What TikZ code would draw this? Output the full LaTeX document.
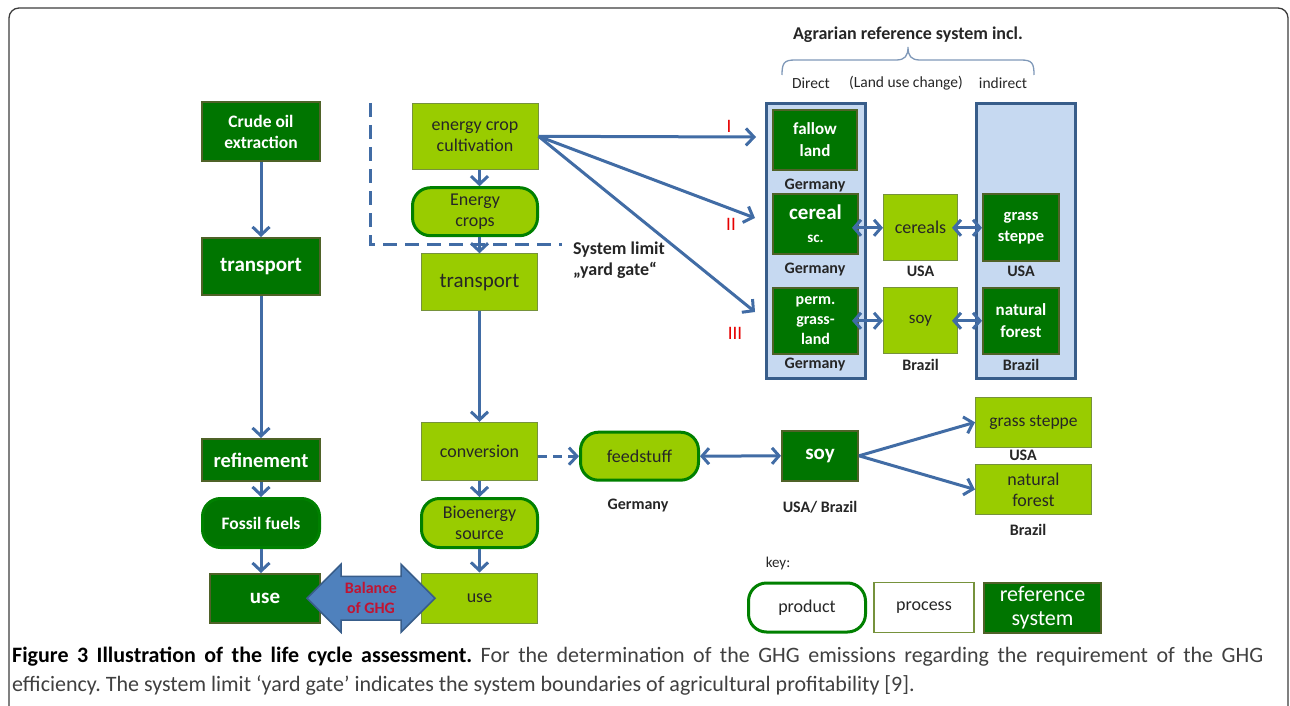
\documentclass[tikz,border=0pt]{standalone}
\usepackage{fontspec}
\setmainfont{Carlito}
\usepackage{tikz}
\usetikzlibrary{arrows.meta,positioning,shapes.arrows,calc}

\definecolor{refgreen}{RGB}{0,117,0}
\definecolor{refedge}{RGB}{79,98,40}
\definecolor{procgreen}{RGB}{153,204,0}
\definecolor{procedge}{RGB}{118,146,60}
\definecolor{prodedge}{RGB}{0,128,0}
\definecolor{flowblue}{RGB}{65,108,165}
\definecolor{panelblue}{RGB}{198,217,241}
\definecolor{paneledge}{RGB}{56,93,138}
\definecolor{ghgblue}{RGB}{79,129,189}
\definecolor{ghgred}{RGB}{192,20,50}
\definecolor{numred}{RGB}{230,0,0}
\definecolor{darktext}{RGB}{38,38,38}
\definecolor{bracegray}{RGB}{127,152,184}
\definecolor{framegray}{RGB}{60,60,60}

\newcommand\fsz[2]{\fontsize{#1}{#2}\selectfont}
\frenchspacing

\begin{document}
\begin{tikzpicture}[x=1pt,y=-1pt,
    refbox/.style={rectangle, draw=refedge, line width=2pt, fill=refgreen,
                   text=white, align=center, inner sep=1pt,
                   font=\bfseries\fsz{17.5}{21}},
    procbox/.style={rectangle, draw=procedge, line width=1pt, fill=procgreen,
                    text=darktext, align=center, inner sep=1pt,
                    font=\fsz{18}{21}},
    prodbox/.style={rectangle, rounded corners=18pt, draw=prodedge,
                    line width=3pt, fill=procgreen, text=darktext,
                    align=center, inner sep=1pt, font=\fsz{18}{21}},
    panel/.style={rectangle, draw=paneledge, line width=3pt, fill=panelblue},
    place/.style={text=darktext, inner sep=1pt, font=\bfseries\fsz{16}{18}},
    numeral/.style={text=numred, inner sep=0pt, font=\fsz{19}{20}},
    flow/.style={draw=flowblue, line width=3pt,
                 -{Straight Barb[length=8pt,width=17pt]}},
    both/.style={draw=flowblue, line width=3pt,
                 {Straight Barb[length=7pt,width=16pt]}-{Straight Barb[length=7pt,width=16pt]}},
    ghg/.style={double arrow, double arrow head extend=9pt,
                minimum height=128pt, minimum width=68pt, inner sep=0pt,
                draw=paneledge, line width=1.5pt, fill=ghgblue, text=ghgred,
                align=center, font=\bfseries\fsz{16}{20}},
    limit/.style={draw=flowblue, line width=3pt, dash pattern=on 14pt off 8pt},
  ]
    \clip (0,0) rectangle (1290,706);
    \draw[framegray, line width=1.3pt, rounded corners=10pt]
        (9,8) rectangle (1288,760);

    % Fossil chain ---------------------------------------------------
    \node[refbox, minimum width=118pt, minimum height=58pt] (crude)
        at (261,131.5) {Crude oil\\extraction};
    \node[refbox, minimum width=118pt, minimum height=57pt,
          font=\bfseries\fsz{21}{24}] (transa) at (261,266.5) {transport};
    \node[refbox, minimum width=118pt, minimum height=42pt,
          font=\bfseries\fsz{20.5}{24}] (refine) at (261,460) {refinement};
    \node[prodbox, fill=refgreen, text=white, font=\bfseries\fsz{17.5}{21},
          minimum width=117pt, minimum height=49pt] (fossil)
        at (261,523) {Fossil fuels};
    \node[refbox, minimum width=110pt, minimum height=49pt,
          font=\bfseries\fsz{21}{24}] (usea) at (265,598.5) {use};

    % Bioenergy chain ------------------------------------------------
    \node[procbox, minimum width=126pt, minimum height=66pt] (cultiv)
        at (475,136.3) {energy crop\\cultivation};
    \node[prodbox, minimum width=125pt, minimum height=48pt] (ecrops)
        at (475,211.7) {Energy\\crops};
    \node[procbox, minimum width=116pt, minimum height=57pt,
          font=\fsz{21}{24}] (transb) at (479.5,282.3) {transport};
    \node[procbox, minimum width=116pt, minimum height=58pt] (conv)
        at (479.5,451.3) {conversion};
    \node[prodbox, minimum width=116pt, minimum height=49pt] (bioen)
        at (479.5,523) {Bioenergy\\source};
    \node[procbox, minimum width=116pt, minimum height=50pt] (useb)
        at (479.5,598) {use};

    \draw[flow] (transb.north |- cultiv.south) -- (transb.north |- ecrops.north);
    \draw[flow] (transb.north |- ecrops.south) -- (transb.north);
    \draw[flow] (transb) -- (conv);
    \draw[flow] (conv) -- (bioen);
    \draw[flow] (bioen) -- (useb);
    \draw[flow] (crude) -- (transa);
    \draw[flow] (transa) -- (refine);
    \draw[flow] (refine) -- (fossil);
    \draw[flow] (fossil.south) -- (fossil.south |- usea.north);

    % Balance of GHG
    \node[ghg] (balance) at ($(usea.east)!.5!(useb.west)$) {Balance\\of GHG};

    % System limit ---------------------------------------------------
    \draw[limit] (370,103) -- (370,244) -- (562,244);
    \node[anchor=north west, align=left, inner sep=0pt, text=darktext,
          font=\bfseries\fsz{18}{21}] (gate) at (573,242)
        {System limit\\„yard gate“};

    % Agrarian reference system --------------------------------------
    \node[text=darktext, font=\bfseries\fsz{18}{20}] (agrar) at (908,35)
        {Agrarian reference system incl.};
    \draw[bracegray, line width=1.3pt]
        (782,75) .. controls (782,63) and (784,60) .. (795,60) -- (896,60)
        .. controls (905,60) and (908,56) .. (908,47)
        .. controls (908,56) and (911,60) .. (920,60) -- (1021,60)
        .. controls (1032,60) and (1034,63) .. (1034,75);
    \node[text=darktext, font=\fsz{15.5}{18}] (direct) at (811,83) {Direct};
    \node[text=darktext, font=\fsz{15.5}{18}] (luc) at (906,83) {(Land use change)};
    \node[text=darktext, font=\fsz{15.5}{18}] (indirect) at (1003,83) {indirect};

    \node[panel, minimum width=99pt, minimum height=275pt] (panela) at (816,240.8) {};
    \node[panel, minimum width=99pt, minimum height=275pt] (panelb) at (1025.6,240.8) {};

    \node[refbox, minimum width=84pt, minimum height=60pt,
          font=\bfseries\fsz{17}{22}] (fallow) at (815,139.8) {fallow\\land};
    \node[refbox, minimum width=85pt, minimum height=60pt] (cereal)
        at (815.5,224) {{\fsz{21}{24}cereal}\\[2pt]{\fsz{15}{18}sc.}};
    \node[refbox, minimum width=85pt, minimum height=66pt,
          font=\bfseries\fsz{16}{20}] (perm) at (815.5,320.8) {perm.\\grass-\\land};
    \node[procbox, minimum width=74pt, minimum height=66pt] (cereals)
        at (920.5,227.8) {cereals};
    \node[procbox, minimum width=74pt, minimum height=66pt,
          font=\fsz{17}{20}] (soyb) at (920.5,320.8) {soy};
    \node[refbox, minimum width=76pt, minimum height=67pt,
          font=\bfseries\fsz{16.5}{21}] (steppe) at (1021,227.8) {grass\\steppe};
    \node[refbox, minimum width=76pt, minimum height=66pt,
          font=\bfseries\fsz{17}{22}] (forest) at (1021,320.8) {natural\\forest};

    \node[place] (gerI) at (815,186) {Germany};
    \node[place] (gerII) at (815,270) {Germany};
    \node[place] (gerIII) at (815,365) {Germany};
    \node[place] (usaII) at (920.5,271.7) {USA};
    \node[place] (braIII) at (920.5,365) {Brazil};
    \node[place] (usaIIb) at (1021,271.7) {USA};
    \node[place] (braIIIb) at (1021,365) {Brazil};

    \draw[both] (cereals.west) -- ([xshift=-7pt]cereals.west -| cereal.east);
    \draw[both] (soyb.west) -- ([xshift=-7pt]perm.east);
    \draw[both] ([xshift=-6pt]cereals.east) -- (steppe.west |- cereals.east);
    \draw[both] ([xshift=-6pt]soyb.east) -- (forest.west);

    % Land use change paths
    \coordinate (tipI) at (756,137);
    \coordinate (tipII) at (755,218);
    \coordinate (tipIII) at (755,312);
    \draw[flow] (cultiv.east) -- (tipI);
    \draw[flow] (cultiv.east) -- (tipII);
    \draw[flow] (cultiv.east) -- (tipIII);
    \node[numeral] (numI) at (729,126) {I};
    \node[numeral] (numII) at (731,224) {II};
    \node[numeral] (numIII) at (735,333) {III};

    % Feedstuff ------------------------------------------------------
    \node[prodbox, minimum width=118pt, minimum height=48pt] (feed)
        at (639.5,456.2) {feedstuff};
    \node[refbox, minimum width=76pt, minimum height=50pt,
          font=\bfseries\fsz{21}{24}] (soyc) at (820,455.8) {soy};
    \node[procbox, minimum width=116pt, minimum height=50pt,
          font=\fsz{17.5}{20}] (steppec) at (1033.5,422.3) {grass steppe};
    \node[procbox, minimum width=116pt, minimum height=50pt] (forestc)
        at (1033.5,489.5) {natural\\forest};
    \node[place] (gerF) at (638,506) {Germany};
    \node[place] (usabra) at (820,507) {USA/ Brazil};
    \node[place] (usaF) at (1023,455) {USA};
    \node[place] (braF) at (1028,530) {Brazil};

    \draw[flow, dash pattern=on 9pt off 6pt] (conv.east |- feed.west) -- (feed.west);
    \draw[both] (feed.east) -- (soyc.west);
    \draw[flow] (soyc.east) -- (steppec.west);
    \draw[flow] (soyc.east) -- (forestc.west);

    % Key ------------------------------------------------------------
    \node[text=darktext, font=\fsz{15}{18}] (keylbl) at (778,563) {key:};
    \node[prodbox, fill=white, minimum width=117pt, minimum height=49pt]
        (keyprod) at (807,607.5) {product};
    \node[procbox, fill=white, line width=1.5pt, minimum width=100pt,
          minimum height=50pt] (keyproc) at (924,607.5) {process};
    \node[refbox, minimum width=117pt, minimum height=50pt,
          font=\fsz{22}{24}] (keyref) at (1042.5,607.5) {reference\\system};

    % Caption --------------------------------------------------------
    \node[anchor=north west, align=justify, text width=1251pt, inner sep=0pt,
          text=black!75, font=\fsz{22}{29}] (caption) at (12,647)
        {{\color{black}\bfseries Figure 3 Illustration of the life cycle assessment.}
         For the determination of the GHG emissions regarding the requirement of the GHG\linebreak
         efficiency. The system limit ‘yard gate’ indicates the system boundaries of agricultural profitability [9].};
\end{tikzpicture}
\end{document}
